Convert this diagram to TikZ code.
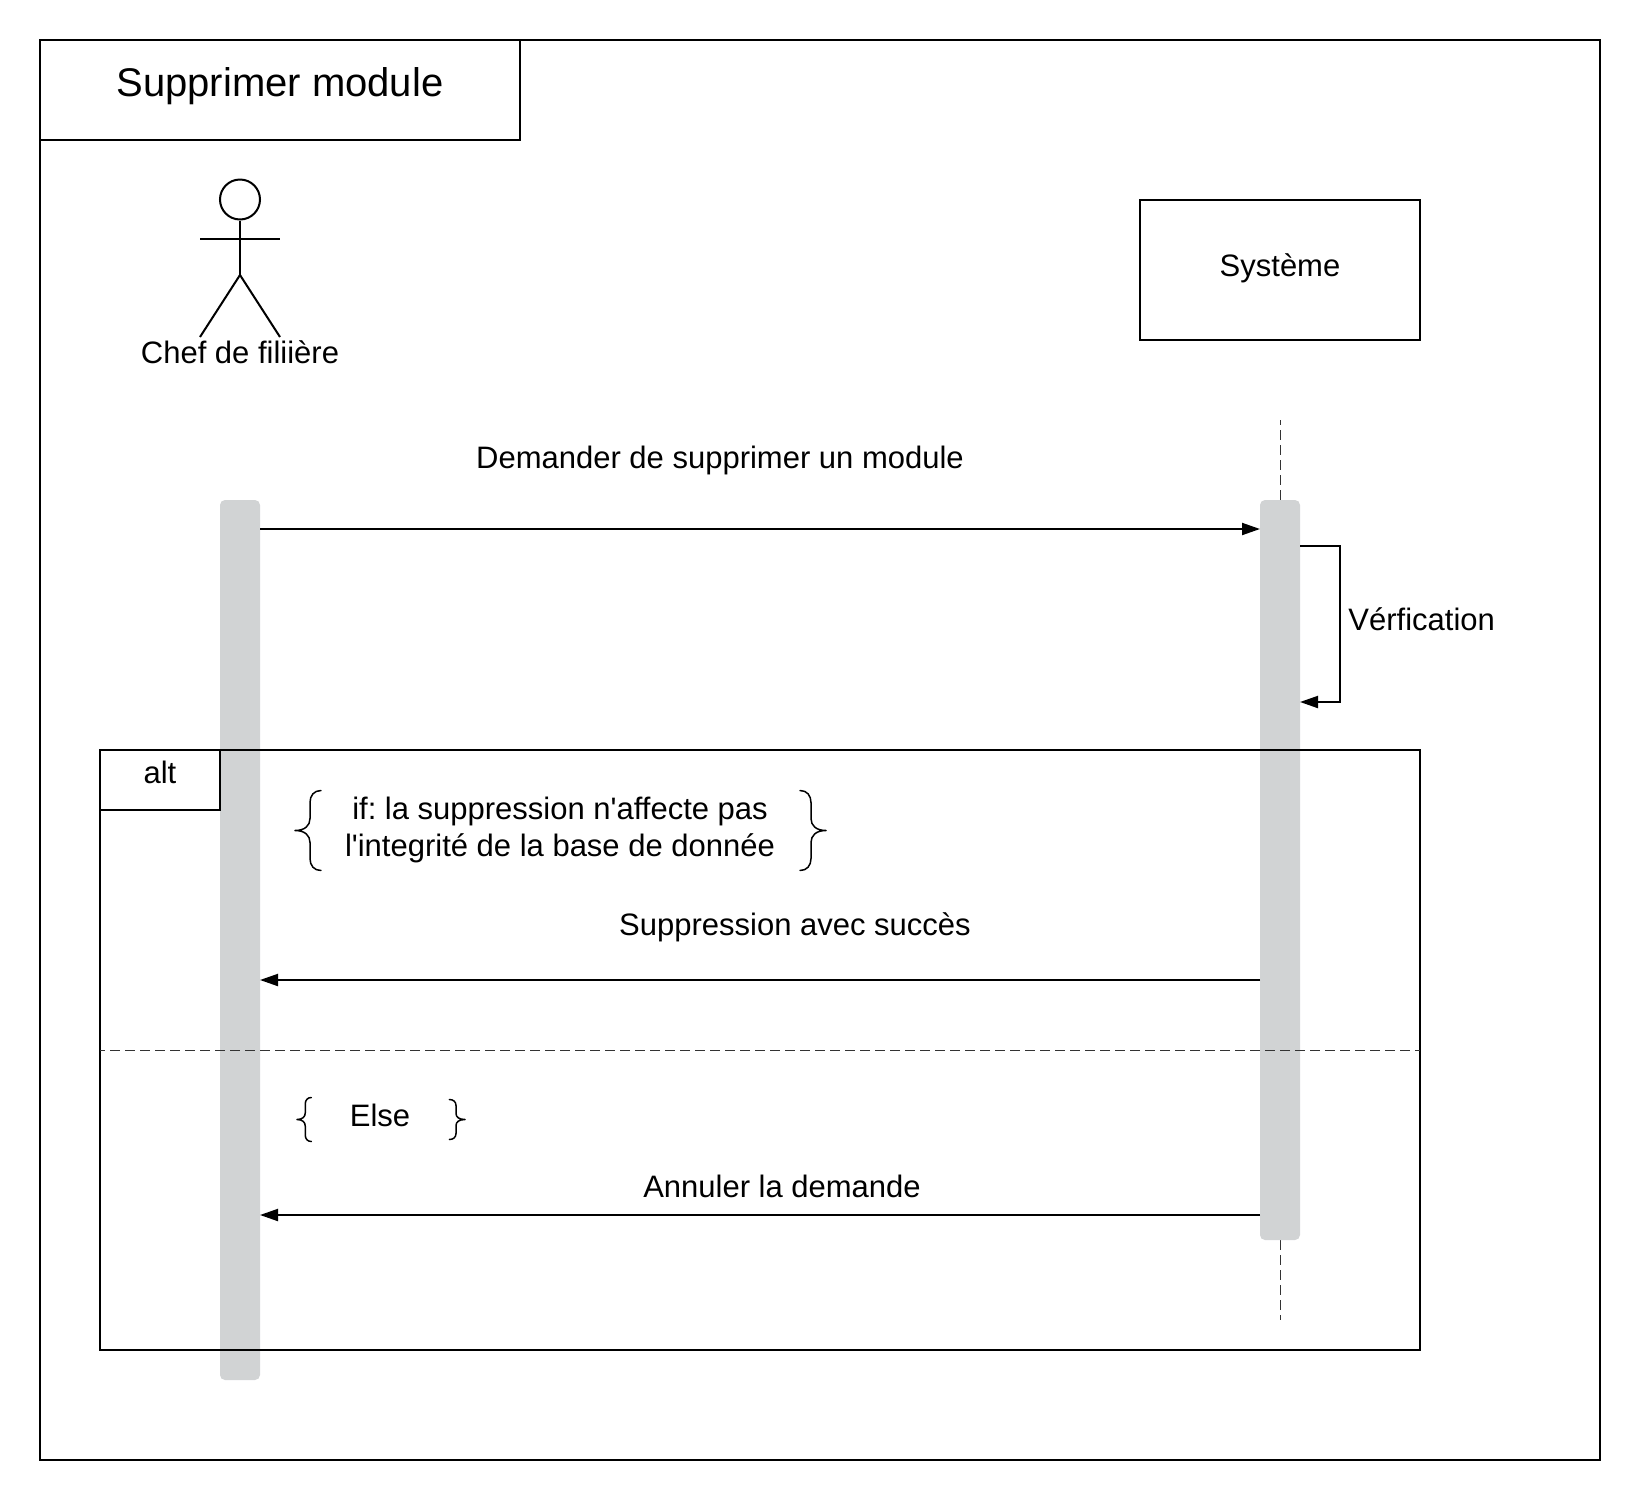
\documentclass[tikz,border=0pt]{standalone}
\usepackage{fontspec}
\usepackage{tikz}
\usetikzlibrary{arrows.meta,positioning}
\newfontfamily\diafont{Liberation Sans}
\definecolor{cbar}{HTML}{D1D3D4}
\definecolor{cdash}{HTML}{333333}

\begin{document}
\frenchspacing
\begin{tikzpicture}[
    x=0.5pt, y=-0.5pt,
    txt/.style={font=\diafont\fontsize{15.5}{18.5}\selectfont, align=center, inner sep=0pt},
    box/.style={draw, line width=1pt, outer sep=0pt, anchor=north west},
    activebar/.style={fill=cbar, rounded corners=2.5pt, minimum width=20pt, outer sep=0pt, inner sep=0pt, anchor=north},
    msg/.style={line width=1pt, -{Triangle[length=9pt, width=6pt]}},
    sep/.style={cdash, line width=0.5pt, dash pattern=on 5pt off 2.5pt, dash phase=2.5pt},
    bracket/.style={line width=0.75pt, line cap=round, line join=round},
    pics/curly/.style={code={
        \draw[bracket] (26,-40) .. controls (19,-40) and (15,-35) .. (15,-28) -- (15,-12)
            .. controls (15,-5) and (10,0) .. (0,0) .. controls (10,0) and (15,5) .. (15,12) -- (15,28)
            .. controls (15,35) and (19,40) .. (26,40);
    }},
]
\useasboundingbox (0,0) rectangle (1640,1500);
% lifeline and activation bars
\coordinate (lifetop) at (1280,420);
\coordinate (lifeend) at (1280,1320);
\draw[sep] (lifetop) -- (lifeend);
\node[activebar, minimum height=370pt] (sysbar) at (1280,500) {};
\node[activebar, minimum height=440pt] (chefbar) at (240,500) {};
% frame
\node[box, minimum width=780pt, minimum height=710pt] (frame) at (40,40) {};
\node[box, minimum width=240pt, minimum height=50pt] (title) at (40,40) {};
\node[txt, font=\diafont\fontsize{20}{24}\selectfont] (titlelabel) at (280,86) {Supprimer module};
% actor
\node[draw, circle, line width=1pt, minimum size=20pt, inner sep=0pt] (head) at (240,199.5) {};
\coordinate (hip) at (240,275);
\coordinate (armL) at (200,239);
\coordinate (armR) at (280,239);
\coordinate (footL) at (200,337);
\coordinate (footR) at (280,337);
\draw[line width=1pt] (head.south) -- (hip);
\draw[line width=1pt] (armL) -- (armR);
\draw[line width=1pt] (footL) -- (hip) -- (footR);
\node[txt] (chef) at (240,352) {Chef de filiière};
% system
\node[box, minimum width=140pt, minimum height=70pt] (sysbox) at (1140,200) {};
\node[txt] (syslabel) at (1280,268) {Système};
% messages
\coordinate (ask) at (0,529);
\coordinate (ok) at (0,980);
\coordinate (cancel) at (0,1215);
\node[txt] (asklabel) at (720,460) {Demander de supprimer un module};
\draw[msg] (chefbar.east |- ask) -- (sysbar.west |- ask);
\coordinate (loopA) at (1340,546);
\coordinate (loopB) at (1340,702);
\draw[msg] (sysbar.east |- loopA) -- (loopA) -- (loopB) -- (sysbar.east |- loopB);
\node[txt, anchor=west] (checklabel) at (1348,619) {Vérfication};
% alt block
\node[box, minimum width=660pt, minimum height=300pt] (altbox) at (100,750) {};
\node[box, minimum width=60pt, minimum height=30pt] (alttag) at (100,750) {};
\node[txt] (altlabel) at (160,772) {alt};
\node[txt] (iflabel) at (560,829.5) {if: la suppression n'affecte pas\\l'integrité de la base de donnée};
\pic (ifL) at (295,830.5) {curly};
\pic[xscale=-1] (ifR) at (826,830.5) {curly};
\node[txt] (oklabel) at (795,927) {Suppression avec succès};
\draw[msg] (sysbar.west |- ok) -- (chefbar.east |- ok);
\coordinate (sepL) at (100,1050);
\coordinate (sepR) at (1420,1050);
\draw[sep] (sepL) -- (sepR);
\node[txt] (elselabel) at (380,1115) {Else};
\pic[scale=0.55] (elseL) at (297,1119.5) {curly};
\pic[xscale=-0.6, yscale=0.5] (elseR) at (465,1119.5) {curly};
\node[txt] (cancellabel) at (782,1186) {Annuler la demande};
\draw[msg] (sysbar.west |- cancel) -- (chefbar.east |- cancel);
\end{tikzpicture}
\end{document}
